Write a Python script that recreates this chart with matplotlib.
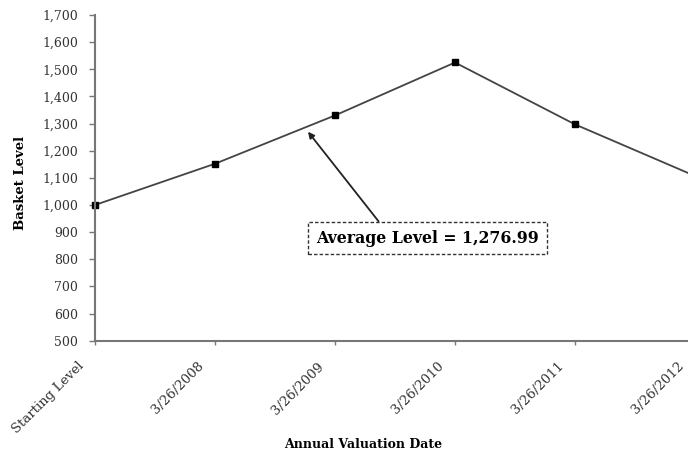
import numpy as np
import matplotlib.pyplot as plt
import matplotlib.transforms as mtransforms

# Basket level at each annual valuation date
dates = ["Starting Level", "3/26/2008", "3/26/2009", "3/26/2010",
         "3/26/2011", "3/26/2012"]
levels = [1000, 1152, 1330, 1525, 1297, 1107]
average_level = 1276.99

y_ticks = np.arange(500, 1701, 100)

plt.rcParams['font.family'] = ['DejaVu Serif']

fig = plt.figure(figsize=(6.88, 4.53), dpi=100)
W, H = 688, 453
y0, y1 = 340.7, 15  # pixel rows of the 500 and 1,700 gridlines
# axes run slightly past the right edge, so the last point is cut off
ax = fig.add_axes([95 / W, (H - y0) / H, 600 / W, (y0 - y1) / H])

x = np.arange(len(dates))
ax.plot(x, levels, color='#444444', lw=1.3, marker='s', ms=4.5,
        mfc='black', mec='black', clip_on=False)

ax.set_xlim(0, len(dates) - 1)
ax.set_ylim(500, 1700)
ax.set_yticks(y_ticks)
ax.set_yticklabels([f"{v:,}" for v in y_ticks], fontsize=9, color='#333333')
ax.set_xticks(x)
ax.set_xticklabels(dates, rotation=45, ha='right', va='center',
                   rotation_mode='anchor', fontsize=9.5, color='#333333')

for side in ['top', 'right']:
    ax.spines[side].set_visible(False)
for side in ['left', 'bottom']:
    ax.spines[side].set_color('#777777')
    ax.spines[side].set_linewidth(1.5)
ax.tick_params(axis='x', direction='out', length=3, width=1,
               color='#777777', pad=14)
ax.tick_params(axis='y', direction='out', length=4, width=1,
               color='#777777', pad=8)

# shift the slanted labels a little left of their ticks
# (after tick_params, which resets the label transforms)
offset = mtransforms.ScaledTranslation(-13 / 100, 0, fig.dpi_scale_trans)
for tick in ax.xaxis.get_major_ticks():
    tick.label1.set_transform(tick.label1.get_transform() + offset)

ax.set_ylabel("Basket Level", fontsize=9.5, fontweight='bold')
ax.yaxis.set_label_coords((27 - 95) / 600, (y0 - 182.5) / (y0 - y1))
ax.set_xlabel("Annual Valuation Date", fontsize=9, fontweight='bold')
ax.xaxis.set_label_coords((363 - 95) / 600, -(438 - y0) / (y0 - y1))

# average annotation with arrow pointing at the line
ax.annotate(f"Average Level = {average_level:,.2f}",
            xy=(1.775, 1270), xytext=(2.77, 878),
            fontsize=11.3, fontweight='bold', ha='center', va='center',
            bbox=dict(boxstyle='square,pad=0.5', fc='white', ec='#333333',
                      ls=(0, (2.5, 1.5)), lw=1),
            arrowprops=dict(arrowstyle='-|>', color='#222222', lw=1.3,
                            mutation_scale=9, shrinkA=0, shrinkB=0,
                            relpos=(0.31, 1.0)))

fig.savefig('out.png', dpi=100)
